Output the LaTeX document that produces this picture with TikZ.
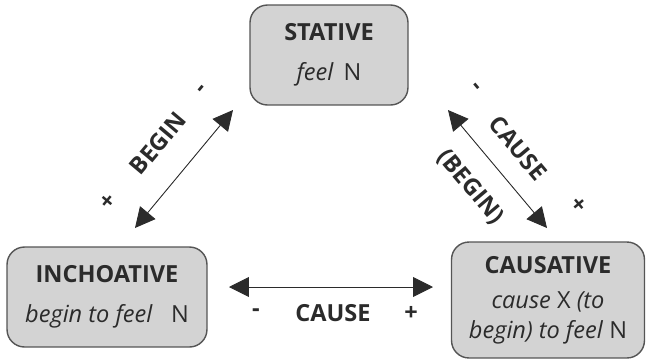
\documentclass[tikz,border=0pt]{standalone}
\usepackage{fontspec}
\setmainfont{Open Sans}
\usetikzlibrary{arrows.meta}
\definecolor{boxfill}{HTML}{D3D3D3}
\definecolor{boxline}{HTML}{555555}
\definecolor{ink}{HTML}{2B2B2B}

\begin{document}
\begin{tikzpicture}[x=0.02cm, y=-0.02cm, >={Triangle[length=0.4cm, width=0.4cm]},
  every node/.style={text=ink, font=\fontsize{13.4}{17}\selectfont},
  state/.style={draw=boxline, fill=boxfill, rounded corners=0.35cm, line width=0.8pt, align=center, inner sep=0pt},
  rel/.style={<->, draw=ink, fill=ink, line width=0.5pt},
  lbl/.style={font=\fontsize{13.4}{17}\selectfont\bfseries}]
\useasboundingbox (0,0) rectangle (647,363);
% the three states
\node[state, minimum width=3.16cm, minimum height=2cm] (stative) at (329,55)
  {\textbf{STATIVE}\\[0.2cm]\textit{feel}\, N};
\node[state, minimum width=4cm, minimum height=2cm] (inchoative) at (107,297)
  {\textbf{INCHOATIVE}\\[0.2cm]\textit{begin to feel}\ \ \ N};
\node[state, minimum width=3.86cm, minimum height=2.32cm] (causative) at (548,300)
  {\textbf{CAUSATIVE}\\[0.1cm]\textit{cause} X \textit{(to}\\\textit{begin) to feel} N};
% arrow ends
\coordinate (begin-lo) at (135,228); \coordinate (begin-hi) at (233,110);
\coordinate (cause-hi) at (448,110); \coordinate (cause-lo) at (547,228);
\coordinate (cause-l) at (229,287);  \coordinate (cause-r) at (433,287);
% BEGIN: inchoative <-> stative
\draw[rel] (begin-lo) -- (begin-hi);
\node[lbl, rotate=50] (begin) at (158,143) {BEGIN};
\node[lbl, rotate=50] (begin-minus) at (203,90) {-};
\node[lbl, rotate=50] (begin-plus) at (108,202) {+};
% CAUSE (BEGIN): stative <-> causative
\draw[rel] (cause-hi) -- (cause-lo);
\node[lbl, rotate=-50] (cause) at (518,148) {CAUSE};
\node[lbl, rotate=-50] (cause-begin) at (470,187) {(BEGIN)};
\node[lbl, rotate=-50] (cause-minus) at (475,88) {-};
\node[lbl, rotate=-50] (cause-plus) at (578,205) {+};
% CAUSE: inchoative <-> causative
\draw[rel] (cause-l) -- (cause-r);
\node[lbl] (cause-h) at (333,313) {CAUSE};
\node[lbl] (cause-h-minus) at (256,313) {-};
\node[lbl] (cause-h-plus) at (411,313) {+};
\end{tikzpicture}
\end{document}
